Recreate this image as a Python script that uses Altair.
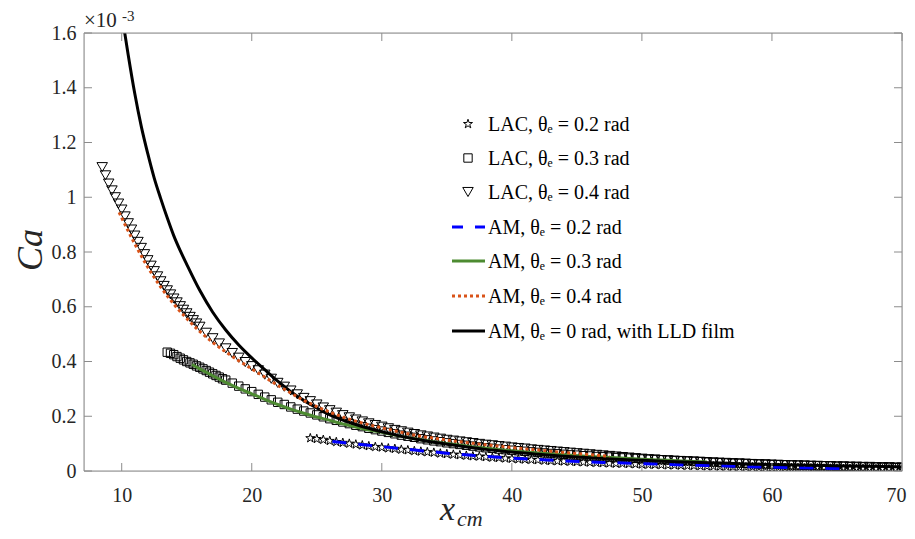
import altair as alt
import pandas as pd

# ---------------- data (Ca in units of 1e-3) ----------------
tri_x = [8.5, 8.75, 9, 9.25, 9.5, 9.75, 10, 10.25, 10.5, 10.75,
         11, 11.25, 11.5, 11.75, 12, 12.25, 12.5, 12.75, 13, 13.25,
         13.5, 13.75, 14, 14.25, 14.5, 14.75, 15, 15.25, 15.5, 15.75,
         16, 16.5, 17, 17.5, 18,
         18.5, 19, 19.5, 20, 20.5, 21, 21.5, 22, 22.5, 23,
         23.5, 24, 24.5, 25, 25.5, 26, 26.5, 27, 27.5, 28,
         28.5, 29, 29.5, 30, 30.5, 31, 31.5, 32, 32.5, 33,
         33.5, 34, 34.5, 35, 35.5, 36, 36.5, 37, 37.5, 38,
         38.5, 39, 39.5, 40, 40.5, 41, 41.5, 42, 42.5, 43,
         43.5, 44, 44.5, 45, 45.5, 46, 46.5, 47, 47.5, 48,
         48.5, 49, 49.5, 50, 50.5, 51, 51.5, 52, 52.5, 53,
         53.5, 54, 54.5, 55, 55.5, 56, 56.5, 57, 57.5, 58,
         58.5, 59, 59.5, 60, 60.5, 61, 61.5, 62, 62.5, 63,
         63.5, 64, 64.5, 65, 65.5, 66, 66.5, 67, 67.5, 68,
         68.5, 69, 69.5, 70]
tri_y = [1.110, 1.080, 1.050, 1.025, 1.000, 0.977, 0.955, 0.930, 0.905, 0.882,
         0.860, 0.837, 0.815, 0.792, 0.770, 0.750, 0.730, 0.711, 0.693, 0.676,
         0.660, 0.645, 0.630, 0.616, 0.602, 0.589, 0.576, 0.563, 0.551, 0.539,
         0.527, 0.505, 0.485, 0.466, 0.448,
         0.431, 0.414, 0.398, 0.383, 0.368, 0.352, 0.337, 0.322, 0.308, 0.294,
         0.280, 0.267, 0.255, 0.243, 0.232, 0.222, 0.213, 0.204, 0.196, 0.188,
         0.181, 0.174, 0.168, 0.162, 0.156, 0.150, 0.145, 0.140, 0.135, 0.130,
         0.126, 0.122, 0.118, 0.114, 0.111, 0.108, 0.105, 0.102, 0.099, 0.096,
         0.094, 0.091, 0.089, 0.086, 0.084, 0.082, 0.079, 0.077, 0.075, 0.073,
         0.071, 0.069, 0.067, 0.065, 0.063, 0.061, 0.059, 0.057, 0.055, 0.053,
         0.051, 0.049, 0.047, 0.045, 0.043, 0.042, 0.040, 0.039, 0.037, 0.036,
         0.035, 0.034, 0.033, 0.031, 0.030, 0.029, 0.028, 0.027, 0.027, 0.026,
         0.025, 0.024, 0.023, 0.022, 0.022, 0.021, 0.021, 0.020, 0.020, 0.019,
         0.019, 0.018, 0.018, 0.017, 0.017, 0.016, 0.016, 0.015, 0.015, 0.014,
         0.014, 0.014, 0.013, 0.013]

sq_x = [13.5, 13.75, 14, 14.25, 14.5, 14.75, 15, 15.25, 15.5, 15.75,
        16, 16.25, 16.5, 16.75, 17, 17.25, 17.5, 17.75, 18,
        18.5, 19, 19.5, 20, 20.5, 21, 21.5, 22, 22.5, 23,
        23.5, 24, 24.5, 25, 25.5, 26, 26.5, 27, 27.5, 28,
        28.5, 29, 29.5, 30, 30.5, 31, 31.5, 32, 32.5, 33,
        33.5, 34, 34.5, 35, 35.5, 36, 36.5, 37, 37.5, 38,
        38.5, 39, 39.5, 40, 40.5, 41, 41.5, 42, 42.5, 43,
        43.5, 44, 44.5, 45, 45.5, 46, 46.5, 47, 47.5, 48,
        48.5, 49, 49.5, 50, 50.5, 51, 51.5, 52, 52.5, 53,
        53.5, 54, 54.5, 55, 55.5, 56, 56.5, 57, 57.5, 58,
        58.5, 59, 59.5, 60, 60.5, 61, 61.5, 62, 62.5, 63,
        63.5, 64, 64.5, 65, 65.5, 66, 66.5, 67, 67.5, 68,
        68.5, 69, 69.5, 70]
sq_y = [0.434, 0.430, 0.425, 0.418, 0.412, 0.406, 0.400, 0.395, 0.390, 0.384,
        0.379, 0.373, 0.367, 0.361, 0.355, 0.349, 0.343, 0.337, 0.332,
        0.321, 0.310, 0.300, 0.290, 0.280, 0.270, 0.260, 0.251, 0.243, 0.234,
        0.226, 0.219, 0.212, 0.205, 0.198, 0.191, 0.185, 0.179, 0.173, 0.167,
        0.162, 0.156, 0.151, 0.146, 0.141, 0.136, 0.131, 0.127, 0.123, 0.118,
        0.114, 0.110, 0.107, 0.103, 0.100, 0.097, 0.094, 0.091, 0.088, 0.085,
        0.083, 0.080, 0.078, 0.076, 0.074, 0.072, 0.070, 0.068, 0.066, 0.064,
        0.063, 0.061, 0.059, 0.058, 0.056, 0.055, 0.053, 0.052, 0.051, 0.049,
        0.048, 0.047, 0.046, 0.044, 0.043, 0.042, 0.041, 0.040, 0.039, 0.038,
        0.037, 0.036, 0.035, 0.034, 0.033, 0.032, 0.031, 0.030, 0.029, 0.028,
        0.027, 0.026, 0.026, 0.025, 0.024, 0.023, 0.022, 0.022, 0.021, 0.020,
        0.019, 0.019, 0.018, 0.017, 0.017, 0.016, 0.015, 0.015, 0.014, 0.014,
        0.013, 0.013, 0.012, 0.012]

star_x = [24.5, 25, 25.5, 26, 26.5, 27, 27.5, 28, 28.5, 29,
          29.5, 30, 30.5, 31, 31.5, 32, 32.5, 33, 33.5, 34,
          34.5, 35, 35.5, 36, 36.5, 37, 37.5, 38, 38.5, 39,
          39.5, 40, 40.5, 41, 41.5, 42, 42.5, 43, 43.5, 44,
          44.5, 45, 45.5, 46, 46.5, 47, 47.5, 48, 48.5, 49,
          49.5, 50, 50.5, 51, 51.5, 52, 52.5, 53, 53.5, 54,
          54.5, 55, 55.5, 56, 56.5, 57, 57.5, 58, 58.5, 59,
          59.5, 60, 60.5, 61, 61.5, 62, 62.5, 63, 63.5, 64,
          64.5, 65, 65.5, 66, 66.5, 67, 67.5, 68, 68.5, 69,
          69.5, 70]
star_y = [0.120, 0.117, 0.114, 0.110, 0.106, 0.103, 0.100, 0.097, 0.094, 0.091,
          0.088, 0.086, 0.083, 0.081, 0.078, 0.076, 0.073, 0.071, 0.069, 0.067,
          0.064, 0.062, 0.060, 0.058, 0.056, 0.054, 0.053, 0.051, 0.049, 0.048,
          0.046, 0.045, 0.043, 0.042, 0.041, 0.040, 0.038, 0.037, 0.036, 0.035,
          0.034, 0.033, 0.032, 0.031, 0.030, 0.029, 0.028, 0.027, 0.027, 0.026,
          0.025, 0.024, 0.023, 0.023, 0.022, 0.021, 0.021, 0.020, 0.019, 0.019,
          0.018, 0.017, 0.017, 0.016, 0.016, 0.015, 0.015, 0.014, 0.014, 0.013,
          0.013, 0.012, 0.012, 0.012, 0.011, 0.011, 0.010, 0.010, 0.010, 0.009,
          0.009, 0.009, 0.008, 0.008, 0.008, 0.008, 0.007, 0.007, 0.007, 0.007,
          0.007, 0.006]

am02_x = [26.2, 27, 28, 29, 30, 31, 32, 33, 34, 35, 36, 37, 38, 39, 40,
          42, 44, 46, 48, 50, 52, 54, 56, 58, 60, 62, 64, 66]
am02_y = [0.108, 0.104, 0.099, 0.094, 0.089, 0.084, 0.079, 0.074, 0.070, 0.065,
          0.061, 0.057, 0.053, 0.050, 0.047, 0.042, 0.037, 0.033, 0.030, 0.027,
          0.024, 0.021, 0.019, 0.016, 0.014, 0.012, 0.010, 0.008]

am03_x = [15.4, 16, 17, 18, 19, 20, 21, 22, 23, 24, 25, 26, 27, 28, 29, 30,
          31, 32, 33, 34, 35, 36, 37, 38, 39, 40, 42, 44, 46, 48, 50, 52, 54, 55]
am03_y = [0.389, 0.373, 0.348, 0.324, 0.302, 0.282, 0.262, 0.243, 0.226, 0.211,
          0.197, 0.185, 0.172, 0.161, 0.150, 0.141, 0.131, 0.122, 0.114, 0.106,
          0.100, 0.094, 0.088, 0.083, 0.078, 0.074, 0.066, 0.059, 0.053, 0.048,
          0.043, 0.039, 0.035, 0.033]

am04_x = [9.8, 10, 11, 12, 13, 14, 15, 16, 17, 18, 19, 20, 21, 22, 23, 24, 25,
          26, 27, 28, 29, 30, 31, 32, 33, 34, 35, 36, 37, 38, 39, 40, 41, 42,
          43, 44, 45, 46, 47, 47.5]
am04_y = [0.945, 0.925, 0.830, 0.745, 0.672, 0.610, 0.557, 0.510, 0.470, 0.435,
          0.403, 0.373, 0.343, 0.313, 0.285, 0.258, 0.235, 0.215, 0.197, 0.182,
          0.169, 0.158, 0.147, 0.136, 0.127, 0.120, 0.113, 0.107, 0.101, 0.096,
          0.091, 0.086, 0.081, 0.077, 0.072, 0.068, 0.064, 0.060, 0.056, 0.054]

lld_x = [10.2, 10.5, 11, 11.5, 12, 12.5, 13, 13.5, 14, 14.5, 15, 16, 17, 18,
         19, 20, 21, 22, 23, 24, 25, 26, 27, 28, 29, 30, 31, 32, 33, 34, 35,
         36, 37, 38, 39, 40, 42, 44, 46, 48, 50, 52, 54, 56, 58, 60, 62, 64,
         66, 68, 70]
lld_y = [1.610, 1.520, 1.380, 1.260, 1.160, 1.070, 0.995, 0.925, 0.860, 0.805,
         0.755, 0.660, 0.580, 0.515, 0.460, 0.413, 0.370, 0.328, 0.290, 0.258,
         0.230, 0.205, 0.186, 0.170, 0.156, 0.143, 0.132, 0.122, 0.113, 0.105,
         0.098, 0.091, 0.085, 0.079, 0.074, 0.069, 0.061, 0.054, 0.048, 0.043,
         0.039, 0.035, 0.032, 0.029, 0.026, 0.024, 0.022, 0.020, 0.018, 0.017,
         0.015]

x_ticks = [10, 20, 30, 40, 50, 60, 70]
y_ticks = [0, 0.2, 0.4, 0.6, 0.8, 1.0, 1.2, 1.4, 1.6]

legend_labels = [
    "LAC, θₑ = 0.2 rad",
    "LAC, θₑ = 0.3 rad",
    "LAC, θₑ = 0.4 rad",
    "AM, θₑ = 0.2 rad",
    "AM, θₑ = 0.3 rad",
    "AM, θₑ = 0.4 rad",
    "AM, θₑ = 0 rad, with LLD film",
]

# ---------------- styling ----------------
W, H = 818, 438
SERIF = "Liberation Serif"
AXIS_GRAY = "#8c8c8c"
TEXT_COL = "#262626"
BLUE, GREEN, ORANGE = "#0000FF", "#4D8B31", "#D95319"
STAR = ("M0,-1L0.225,-0.309L0.951,-0.309L0.363,0.118L0.588,0.809L0,0.382"
        "L-0.588,0.809L-0.363,0.118L-0.951,-0.309L-0.225,-0.309Z")

xscale = alt.Scale(domain=[7.1, 70], nice=False, zero=False)
yscale = alt.Scale(domain=[0, 1.6], nice=False)
xaxis = alt.Axis(values=x_ticks, format="d", ticks=False, tickSize=0, domain=False,
                 grid=False, title=None, labelFont=SERIF, labelFontSize=20,
                 labelColor=TEXT_COL, labelPadding=14, labelFlush=True,
                 labelFlushOffset=4)
yaxis = alt.Axis(values=y_ticks, ticks=False, tickSize=0, domain=False, grid=False,
                 title=None,
                 labelExpr="datum.value == 0 ? '0' : format(datum.value, '.1~f')",
                 labelFont=SERIF, labelFontSize=20, labelColor=TEXT_COL,
                 labelPadding=8, labelFlush=False)


def X():
    return alt.X("x:Q", scale=xscale, axis=xaxis)


def Y():
    return alt.Y("y:Q", scale=yscale, axis=yaxis)


def pts(xs, ys, shape, size):
    df = pd.DataFrame({"x": xs, "y": ys})
    return alt.Chart(df).mark_point(shape=shape, size=size, filled=False,
                                    color="black", strokeWidth=1, opacity=1,
                                    clip=True).encode(x=X(), y=Y())


def line(xs, ys, color, dash=None, width=3):
    df = pd.DataFrame({"x": xs, "y": ys})
    kw = dict(color=color, strokeWidth=width, clip=True, interpolate="monotone")
    if dash:
        kw["strokeDash"] = dash
        kw["strokeCap"] = "butt"
    return alt.Chart(df).mark_line(**kw).encode(x=X(), y=Y())


one = pd.DataFrame({"a": [0]})

layers = [
    pts(star_x, star_y, STAR, 90),
    pts(sq_x, sq_y, "square", 70),
    pts(tri_x, tri_y, "triangle-down", 110),
    line(am02_x, am02_y, BLUE, [14, 12]),
    line(am03_x, am03_y, GREEN),
    line(lld_x, lld_y, "black"),
    line(am04_x, am04_y, ORANGE, [3, 3]),
]

# box around the plot area
layers.append(alt.Chart(one).mark_rect(fill=None, stroke=AXIS_GRAY, strokeWidth=1).encode(
    x=alt.value(0), x2=alt.value(W), y=alt.value(0), y2=alt.value(H)))

# inward ticks on all four sides
xt = pd.DataFrame({"x": x_ticks})
yt = pd.DataFrame({"y": y_ticks})
TL = 8
layers += [
    alt.Chart(xt).mark_rule(color=AXIS_GRAY, strokeWidth=1).encode(
        x=X(), y=alt.value(H), y2=alt.value(H - TL)),
    alt.Chart(xt).mark_rule(color=AXIS_GRAY, strokeWidth=1).encode(
        x=X(), y=alt.value(0), y2=alt.value(TL)),
    alt.Chart(yt).mark_rule(color=AXIS_GRAY, strokeWidth=1).encode(
        y=Y(), x=alt.value(0), x2=alt.value(TL)),
    alt.Chart(yt).mark_rule(color=AXIS_GRAY, strokeWidth=1).encode(
        y=Y(), x=alt.value(W), x2=alt.value(W - TL)),
]

# ---------------- custom legend ----------------
row_y = [91, 125, 159, 194, 228, 263, 298]
sym_x, line_x0, line_x1, text_x = 384, 368, 401, 404
markers = [(STAR, 90), ("square", 70), ("triangle-down", 110)]
for i, (shape, size) in enumerate(markers):
    layers.append(alt.Chart(one).mark_point(
        shape=shape, size=size, filled=False, color="black", strokeWidth=1,
        opacity=1).encode(x=alt.value(sym_x), y=alt.value(row_y[i])))
line_styles = [(BLUE, [11, 12]), (GREEN, None), (ORANGE, [3, 3]), ("black", None)]
for j, (col, dash) in enumerate(line_styles):
    kw = dict(color=col, strokeWidth=3)
    if dash:
        kw["strokeDash"] = dash
        kw["strokeCap"] = "butt"
    layers.append(alt.Chart(one).mark_rule(**kw).encode(
        x=alt.value(line_x0), x2=alt.value(line_x1), y=alt.value(row_y[3 + j])))
for i, lab in enumerate(legend_labels):
    layers.append(alt.Chart(one).mark_text(
        text=lab, align="left", baseline="middle", font=SERIF, fontSize=20,
        color="black").encode(x=alt.value(text_x), y=alt.value(row_y[i] + 1)))

# ---------------- titles / exponent ----------------
layers += [
    alt.Chart(one).mark_text(text="Ca", font=SERIF, fontSize=36, fontStyle="italic",
                             angle=270, align="center", baseline="middle",
                             color=TEXT_COL).encode(x=alt.value(-53), y=alt.value(217)),
    alt.Chart(one).mark_text(text="x", font=SERIF, fontSize=34, fontStyle="italic",
                             align="left", baseline="alphabetic",
                             color=TEXT_COL).encode(x=alt.value(356), y=alt.value(487)),
    alt.Chart(one).mark_text(text="cm", font=SERIF, fontSize=22, fontStyle="italic",
                             align="left", baseline="alphabetic",
                             color=TEXT_COL).encode(x=alt.value(373), y=alt.value(493)),
    alt.Chart(one).mark_text(text="×10", font=SERIF, fontSize=21, align="left",
                             baseline="alphabetic",
                             color=TEXT_COL).encode(x=alt.value(0), y=alt.value(-6)),
    alt.Chart(one).mark_text(text="-3", font=SERIF, fontSize=15, align="left",
                             baseline="alphabetic",
                             color=TEXT_COL).encode(x=alt.value(38), y=alt.value(-12)),
]

chart = alt.layer(*layers).properties(
    width=W, height=H,
    padding={"left": 76, "top": 25, "right": 5, "bottom": 60},
    autosize=alt.AutoSizeParams(type="none"),
).configure_view(strokeWidth=0).configure(background="white")

chart.save("out.html", embed_options={"renderer": "svg", "actions": False})
